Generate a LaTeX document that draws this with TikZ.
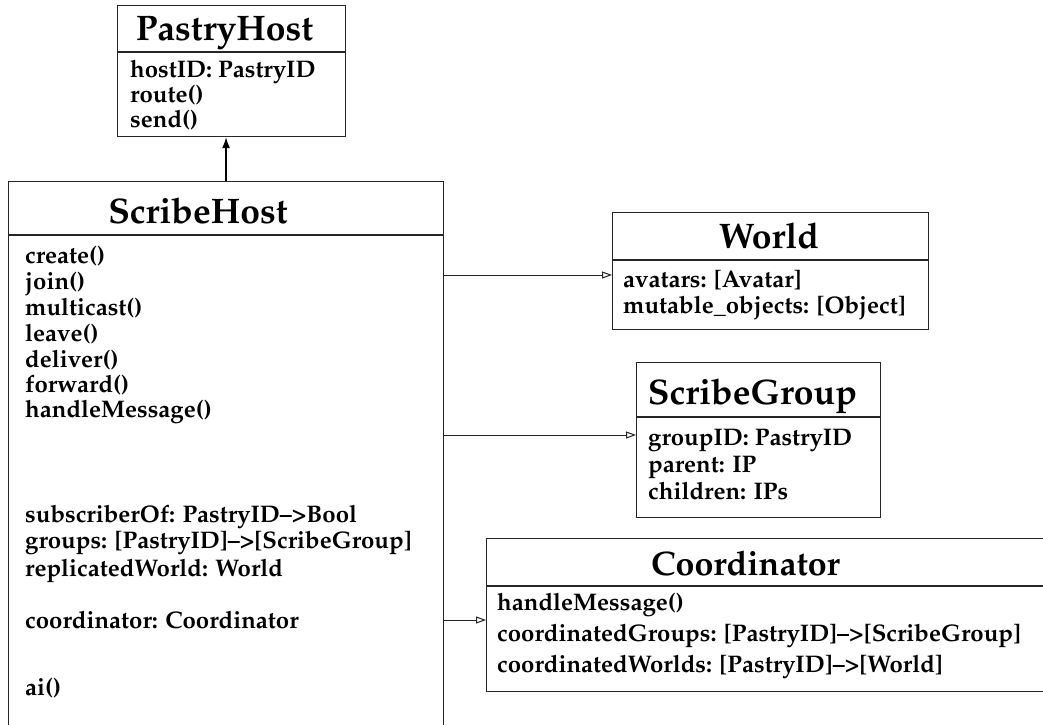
\documentclass[tikz,border=0pt]{standalone}
\usepackage[T1]{fontenc}
\usepackage{mathpazo}
\usetikzlibrary{arrows.meta,calc}
\tikzset{
  classbox/.style={draw=black!85, line width=1.1pt, inner sep=0pt, anchor=north west},
  divider/.style={draw=black!85, line width=1.1pt},
  title/.style={inner sep=0pt, anchor=base, font=\fontsize{#1}{#1}\selectfont\bfseries},
  member/.style={inner sep=0pt, anchor=base west, font=\fontsize{24}{24}\selectfont\bfseries},
  inherit/.style={draw=black, line width=1.6pt, -{Latex[length=11pt,width=8pt]}},
  assoc/.style={draw=black!85, line width=1pt, -{Triangle[open,length=10pt,width=7pt,line width=1pt]}},
}
\begin{document}
\begin{tikzpicture}[x=1pt,y=-1pt]
\clip (0,0) rectangle (1043,724);
\fill[white] (0,0) rectangle (1043,724);

% PastryHost
\node[classbox, minimum width=228pt, minimum height=131pt] (pastry) at (117,5) {};
\draw[divider] (117,52) -- (345,52);
\node[title=35.5] (pastryT) at (224.5,40) {PastryHost};
\node[member] (p1) at (130,77) {hostID: PastryID};
\node[member] (p2) at (130,102) {route()};
\node[member] (p3) at (130,127) {send()};

% ScribeHost
\node[classbox, minimum width=435pt, minimum height=560pt] (scribe) at (8,181) {};
\draw[divider] (8,235) -- (443,235);
\node[title=35.5] (scribeT) at (198,223) {ScribeHost};
\node[member] (s1) at (25,263) {create()};
\node[member] (s2) at (25,289) {join()};
\node[member] (s3) at (25,315) {multicast()};
\node[member] (s4) at (25,341) {leave()};
\node[member] (s5) at (25,367) {deliver()};
\node[member] (s6) at (25,392) {forward()};
\node[member] (s7) at (25,417) {handleMessage()};
\node[member] (s8) at (25,522) {subscriberOf: PastryID--{>}Bool};
\node[member] (s9) at (25,548) {groups: [PastryID]--{>}[ScribeGroup]};
\node[member] (s10) at (25,576) {replicatedWorld: World};
\node[member] (s11) at (25,628) {coordinator: Coordinator};
\node[member] (s12) at (25,695) {ai()};

% World
\node[classbox, minimum width=316pt, minimum height=117pt] (world) at (612,212) {};
\draw[divider] (612,260) -- (928,260);
\node[title=35.5] (worldT) at (769,248) {World};
\node[member] (w1) at (623,287) {avatars: [Avatar]};
\node[member] (w2) at (623,313) {mutable\_objects: [Object]};

% ScribeGroup
\node[classbox, minimum width=244pt, minimum height=155pt] (group) at (636,362) {};
\draw[divider] (636,417) -- (880,417);
\node[title=35.5] (groupT) at (752.5,404) {ScribeGroup};
\node[member] (g1) at (648,445) {groupID: PastryID};
\node[member] (g2) at (648,472) {parent: IP};
\node[member] (g3) at (648,499) {children: IPs};

% Coordinator
\node[classbox, minimum width=570pt, minimum height=153pt] (coord) at (486,538) {};
\draw[divider] (486,586) -- (1056,586);
\node[title=34] (coordT) at (745.5,575) {Coordinator};
\node[member] (c1) at (497,610) {handleMessage()};
\node[member] (c2) at (497,641) {coordinatedGroups: [PastryID]--{>}[ScribeGroup]};
\node[member] (c3) at (497,672) {coordinatedWorlds: [PastryID]--{>}[World]};

% Connector levels
\coordinate (lvW) at (0,275);
\coordinate (lvG) at (0,435);
\coordinate (lvC) at (0,620);

% Connectors
\draw[inherit] (scribe.north) -- (scribe.north |- pastry.south);
\draw[assoc] (scribe.east |- lvW) -- (world.west |- lvW);
\draw[assoc] (scribe.east |- lvG) -- (group.west |- lvG);
\draw[assoc] (scribe.east |- lvC) -- (coord.west |- lvC);
\end{tikzpicture}
\end{document}
